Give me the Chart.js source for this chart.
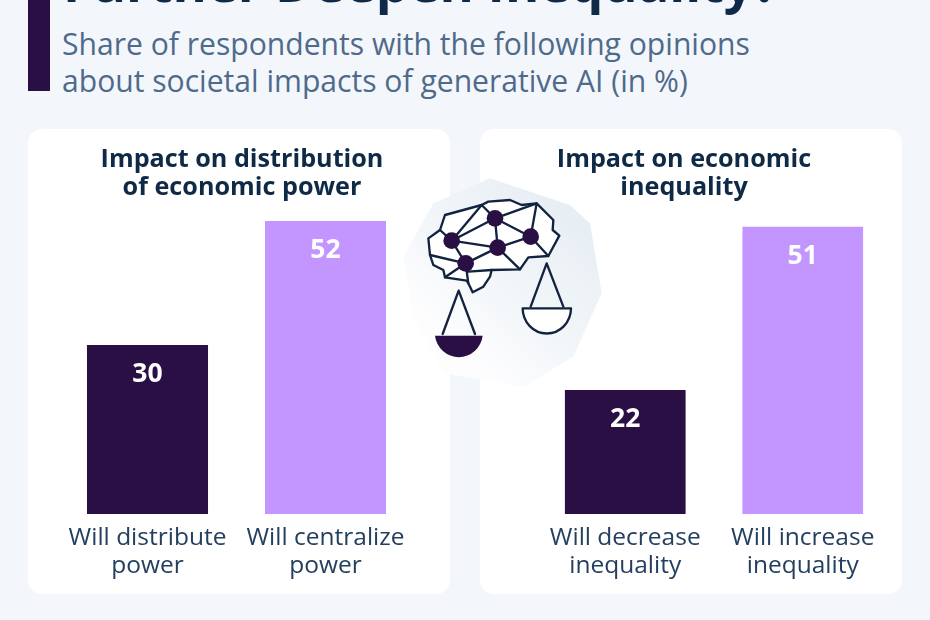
<!DOCTYPE html>
<html>
    <head>
        <title>Will AI Further Deepen Inequality?</title>
        <meta http-equiv="Content-Type" content="text/html; charset=UTF-8">
        <script src="https://cdn.jsdelivr.net/npm/chart.js"></script>
        <style>
            html, body { margin: 0; padding: 0; }
            body { width: 930px; height: 620px; overflow: hidden; position: relative; background: #f3f7fb; font-family: "Open Sans", sans-serif; }
            #accent { position: absolute; left: 28px; top: 0; width: 22px; height: 91px; background: #2a0f45; }
            #headline { position: absolute; left: 63px; top: -48px; font-size: 52.3px; line-height: 60px; font-weight: 700; color: #0f2a47; white-space: nowrap; }
            #sub { position: absolute; left: 62px; top: 25px; font-size: 30.1px; line-height: 37px; color: #4f6a8a; white-space: nowrap; }
            .panel { position: absolute; top: 129px; width: 422px; height: 465px; background: #fff; border-radius: 14px; }
            #panelLeft { left: 28px; }
            #panelRight { left: 480px; }
            .panel canvas { position: absolute; left: 0; top: 0; }
            .panel h2 { position: absolute; top: 14px; margin: 0; width: 100%; text-align: center; font-size: 25.2px; line-height: 28px; font-weight: 700; color: #0f2a47; }
            #panelLeft h2 { left: 3px; }
            #panelRight h2 { left: -7px; }
            #illustration { position: absolute; left: 400px; top: 170px; width: 210px; height: 220px; }
        </style>
    </head>
    <body>

        <div id="accent"></div>
        <div id="headline">Further Deepen Inequality?</div>
        <div id="sub">Share of respondents with the following opinions<br>about societal impacts of generative AI (in %)</div>

        <div class="panel" id="panelLeft">
            <canvas id="chartPower" width="422" height="465"></canvas>
            <h2>Impact on distribution<br>of economic power</h2>
        </div>
        <div class="panel" id="panelRight">
            <canvas id="chartInequality" width="422" height="465"></canvas>
            <h2>Impact on economic<br>inequality</h2>
        </div>

        <svg id="illustration" viewBox="0 0 630 660" xmlns="http://www.w3.org/2000/svg">
            <defs>
                <linearGradient id="blob" x1="0.8" y1="0.15" x2="0.25" y2="0.8">
                    <stop offset="0" stop-color="#e8eff4"/>
                    <stop offset="0.55" stop-color="#f2f6f9"/>
                    <stop offset="1" stop-color="#fdfdfe"/>
                </linearGradient>
            </defs>
            <path d="M10 260 L100 100 L270 25 L510 105 L570 160 L605 370 L520 560 L370 650 L130 610 L40 440 Z" fill="url(#blob)"/>
            <g fill="none" stroke="#12233f" stroke-width="7" stroke-linejoin="round" stroke-linecap="round">
                <path fill="#fff" d="M135 135 L245 105 L265 95 L330 90 L365 105 L410 100 L460 150 L458 180 L478 197 L445 258 L385 262 L360 298 L275 300 L270 320 L250 350 L218 367 L205 340 L200 332 L135 322 L130 300 L100 285 L90 255 L85 205 L120 180 Z"/>
                <path d="M120 180 L155 212 M245 105 L155 212 M245 105 L285 145 M285 145 L155 212 M285 145 L410 100 M285 145 L293 233 M155 212 L293 233 M285 145 L392 200 M410 100 L392 200 M392 200 L293 233 M392 200 L445 258 M293 233 L197 280 M155 212 L197 280 M90 255 L197 280 M197 280 L135 322 M197 280 L205 340 M275 300 L205 305 M293 233 L360 298"/>
                <path d="M128 492 L176 362 L225 492"/>
                <path d="M392 410 L440 280 L490 410"/>
                <path fill="#fff" d="M368 415 L513 415 A72 75 0 0 1 368 415 Z"/>
            </g>
            <g fill="#2a0f45">
                <circle cx="285" cy="145" r="25"/>
                <circle cx="155" cy="212" r="25"/>
                <circle cx="293" cy="233" r="25"/>
                <circle cx="392" cy="200" r="25"/>
                <circle cx="197" cy="280" r="25"/>
                <path d="M105 497 L248 497 A72 73 0 0 1 105 497 Z"/>
            </g>
        </svg>

        <script>
            const categoriesPower = [["Will distribute", "power"], ["Will centralize", "power"]];
            const valuesPower = [30, 52];
            const categoriesInequality = [["Will decrease", "inequality"], ["Will increase", "inequality"]];
            const valuesInequality = [22, 51];
            const barColors = ["#2a0f45", "#c395ff"];

            // valeur affichée dans le haut de chaque barre
            const barValues = {
                id: 'barValues',
                afterDatasetsDraw(chart) {
                    const ctx = chart.ctx;
                    ctx.save();
                    ctx.fillStyle = '#fff';
                    ctx.font = '700 26.5px "Open Sans"';
                    ctx.textAlign = 'center';
                    ctx.textBaseline = 'middle';
                    chart.getDatasetMeta(0).data.forEach(function (bar, i) {
                        ctx.fillText(chart.data.datasets[0].data[i], bar.x, bar.y + 29.5);
                    });
                    ctx.restore();
                }
            };

            function drawChart(id, categories, values, padLeft, padRight) {
                return new Chart(document.getElementById(id), {
                    type: 'bar',
                    data: {
                        labels: categories,
                        datasets: [{
                            data: values,
                            backgroundColor: barColors,
                            barPercentage: 1,
                            categoryPercentage: 0.68
                        }]
                    },
                    options: {
                        responsive: false,
                        animation: false,
                        layout: { padding: { top: 47, left: padLeft, right: padRight, bottom: 0 } },
                        plugins: { legend: { display: false }, tooltip: { enabled: false } },
                        scales: {
                            x: {
                                grid: { display: false },
                                border: { display: false },
                                afterFit: function (scale) { scale.height = 80; },
                                ticks: {
                                    autoSkip: false,
                                    maxRotation: 0,
                                    padding: 2,
                                    color: '#24405e',
                                    font: { family: '"Open Sans"', size: 24.5, lineHeight: 1.15 }
                                }
                            },
                            y: { display: false, min: 0, max: 60 }
                        }
                    },
                    plugins: [barValues]
                });
            }

            drawChart('chartPower', categoriesPower, valuesPower, 30.5, 35.5);
            drawChart('chartInequality', categoriesInequality, valuesInequality, 56.5, 10.5);
        </script>
    </body>
</html>
